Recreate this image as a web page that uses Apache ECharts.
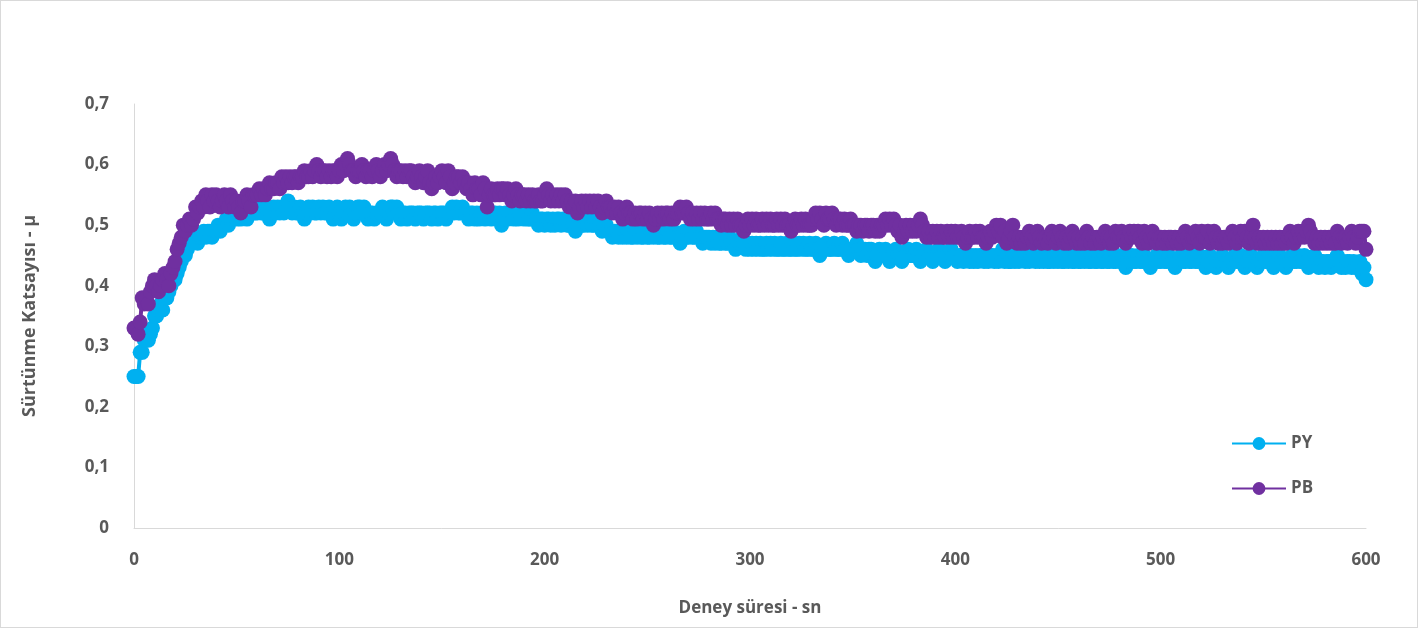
<!DOCTYPE html>
<html>
<head>
<meta charset="utf-8">
<script src="https://cdn.jsdelivr.net/npm/echarts@6/dist/echarts.min.js"></script>
<style>
  html, body { margin: 0; padding: 0; background: #fff; }
  #chart { width: 1418px; height: 628px; box-sizing: border-box; border: 1px solid #d9d9d9; }
</style>
</head>
<body>
<div id="chart"></div>
<script>
// PY / PB friction coefficient, one reading per second (0..600 s)
const seriesNames = ['PY', 'PB'];
const xTicks = [0, 100, 200, 300, 400, 500, 600];
const yTicks = [0, 0.1, 0.2, 0.3, 0.4, 0.5, 0.6, 0.7];

const pyValues = [
  0.25,0.25,0.25,0.29,0.29,0.31,0.32,0.31,0.32,0.33,
  0.35,0.35,0.36,0.37,0.36,0.38,0.38,0.39,0.40,0.41,
  0.41,0.42,0.43,0.44,0.45,0.45,0.46,0.47,0.47,0.48,
  0.48,0.47,0.48,0.48,0.49,0.48,0.49,0.49,0.48,0.49,
  0.49,0.50,0.49,0.50,0.50,0.51,0.50,0.51,0.51,0.52,
  0.51,0.52,0.51,0.52,0.52,0.51,0.52,0.53,0.52,0.52,
  0.52,0.53,0.52,0.52,0.53,0.52,0.51,0.52,0.53,0.52,
  0.53,0.52,0.53,0.52,0.53,0.54,0.53,0.52,0.53,0.52,
  0.52,0.53,0.52,0.51,0.52,0.53,0.52,0.53,0.52,0.52,
  0.53,0.52,0.53,0.52,0.52,0.53,0.52,0.51,0.52,0.53,
  0.52,0.51,0.52,0.53,0.52,0.53,0.52,0.51,0.52,0.53,
  0.53,0.52,0.53,0.52,0.51,0.52,0.52,0.51,0.52,0.52,
  0.52,0.53,0.52,0.51,0.52,0.53,0.53,0.52,0.53,0.52,
  0.51,0.52,0.52,0.51,0.52,0.52,0.52,0.51,0.52,0.52,
  0.52,0.51,0.52,0.52,0.52,0.51,0.52,0.52,0.51,0.52,
  0.52,0.52,0.51,0.52,0.52,0.53,0.52,0.53,0.52,0.52,
  0.53,0.52,0.52,0.51,0.52,0.52,0.51,0.52,0.51,0.52,
  0.52,0.51,0.52,0.52,0.51,0.52,0.52,0.51,0.52,0.50,
  0.51,0.52,0.51,0.52,0.52,0.51,0.52,0.51,0.52,0.52,
  0.51,0.52,0.51,0.51,0.52,0.51,0.51,0.50,0.51,0.51,
  0.50,0.51,0.51,0.50,0.51,0.50,0.51,0.51,0.50,0.51,
  0.51,0.50,0.50,0.51,0.50,0.49,0.50,0.51,0.50,0.50,
  0.51,0.50,0.51,0.50,0.50,0.51,0.50,0.50,0.49,0.50,
  0.50,0.49,0.49,0.48,0.49,0.49,0.48,0.49,0.48,0.49,
  0.48,0.49,0.48,0.48,0.49,0.48,0.49,0.48,0.48,0.49,
  0.48,0.48,0.49,0.48,0.49,0.48,0.48,0.49,0.48,0.48,
  0.49,0.48,0.48,0.49,0.48,0.48,0.47,0.48,0.49,0.48,
  0.48,0.49,0.48,0.48,0.49,0.48,0.48,0.47,0.48,0.48,
  0.48,0.47,0.48,0.47,0.48,0.47,0.47,0.48,0.47,0.47,
  0.48,0.47,0.47,0.46,0.47,0.47,0.48,0.47,0.46,0.47,
  0.46,0.47,0.46,0.47,0.46,0.47,0.46,0.46,0.47,0.46,
  0.47,0.46,0.47,0.46,0.46,0.47,0.46,0.46,0.47,0.46,
  0.46,0.47,0.46,0.46,0.47,0.46,0.47,0.46,0.46,0.47,
  0.46,0.46,0.47,0.46,0.45,0.46,0.46,0.47,0.46,0.46,
  0.46,0.47,0.46,0.46,0.46,0.47,0.46,0.46,0.45,0.46,
  0.46,0.46,0.47,0.46,0.45,0.46,0.46,0.45,0.46,0.46,
  0.45,0.44,0.45,0.46,0.45,0.45,0.46,0.45,0.44,0.45,
  0.45,0.46,0.45,0.45,0.44,0.45,0.45,0.46,0.45,0.45,
  0.45,0.46,0.45,0.44,0.45,0.45,0.46,0.45,0.45,0.44,
  0.45,0.45,0.46,0.45,0.45,0.44,0.45,0.45,0.46,0.45,
  0.45,0.44,0.45,0.45,0.44,0.45,0.45,0.44,0.45,0.44,
  0.45,0.44,0.45,0.45,0.44,0.45,0.44,0.45,0.45,0.44,
  0.45,0.44,0.45,0.46,0.44,0.45,0.44,0.44,0.45,0.44,
  0.45,0.44,0.45,0.45,0.44,0.45,0.44,0.45,0.45,0.44,
  0.45,0.44,0.45,0.44,0.45,0.44,0.44,0.45,0.44,0.45,
  0.44,0.45,0.44,0.44,0.45,0.44,0.45,0.44,0.44,0.45,
  0.44,0.44,0.45,0.44,0.45,0.44,0.44,0.45,0.44,0.44,
  0.45,0.44,0.44,0.45,0.44,0.44,0.45,0.44,0.44,0.45,
  0.44,0.44,0.45,0.43,0.44,0.44,0.45,0.44,0.44,0.45,
  0.44,0.44,0.45,0.44,0.44,0.43,0.44,0.44,0.45,0.44,
  0.44,0.45,0.44,0.44,0.45,0.44,0.44,0.43,0.44,0.44,
  0.45,0.44,0.44,0.45,0.44,0.44,0.45,0.44,0.44,0.45,
  0.44,0.44,0.43,0.44,0.45,0.44,0.44,0.43,0.44,0.44,
  0.45,0.44,0.44,0.43,0.44,0.44,0.45,0.44,0.44,0.45,
  0.44,0.43,0.44,0.44,0.45,0.44,0.44,0.43,0.44,0.44,
  0.45,0.44,0.44,0.45,0.44,0.43,0.44,0.44,0.45,0.44,
  0.44,0.43,0.44,0.44,0.45,0.44,0.44,0.45,0.44,0.44,
  0.45,0.44,0.43,0.44,0.44,0.45,0.44,0.43,0.44,0.44,
  0.43,0.44,0.44,0.43,0.44,0.44,0.45,0.44,0.43,0.44,
  0.43,0.44,0.44,0.43,0.44,0.43,0.43,0.44,0.42,0.43,
  0.41
];

const pbValues = [
  0.33,0.33,0.32,0.34,0.38,0.37,0.38,0.37,0.39,0.40,
  0.41,0.40,0.39,0.40,0.41,0.42,0.41,0.40,0.42,0.43,
  0.44,0.46,0.47,0.48,0.50,0.49,0.50,0.51,0.50,0.51,
  0.53,0.52,0.53,0.54,0.53,0.55,0.54,0.53,0.55,0.54,
  0.55,0.54,0.53,0.54,0.55,0.54,0.53,0.55,0.54,0.53,
  0.54,0.53,0.52,0.54,0.54,0.55,0.54,0.53,0.55,0.55,
  0.55,0.56,0.55,0.56,0.55,0.56,0.57,0.56,0.56,0.57,
  0.57,0.56,0.58,0.57,0.58,0.57,0.58,0.57,0.58,0.58,
  0.57,0.58,0.58,0.59,0.58,0.58,0.59,0.58,0.59,0.60,
  0.59,0.58,0.59,0.59,0.58,0.59,0.58,0.59,0.59,0.58,
  0.59,0.60,0.59,0.60,0.61,0.60,0.59,0.59,0.58,0.59,
  0.59,0.60,0.59,0.58,0.59,0.59,0.58,0.59,0.60,0.59,
  0.58,0.59,0.60,0.59,0.60,0.61,0.60,0.59,0.58,0.59,
  0.59,0.58,0.59,0.58,0.59,0.59,0.58,0.57,0.58,0.59,
  0.58,0.57,0.58,0.59,0.57,0.56,0.57,0.58,0.57,0.58,
  0.59,0.58,0.57,0.59,0.58,0.56,0.57,0.58,0.58,0.57,
  0.58,0.57,0.56,0.57,0.56,0.55,0.57,0.56,0.56,0.55,
  0.57,0.56,0.53,0.55,0.56,0.55,0.55,0.56,0.55,0.56,
  0.56,0.55,0.56,0.55,0.54,0.55,0.56,0.55,0.54,0.55,
  0.55,0.54,0.55,0.54,0.55,0.54,0.54,0.55,0.54,0.54,
  0.55,0.56,0.55,0.54,0.55,0.54,0.55,0.54,0.55,0.54,
  0.55,0.54,0.53,0.54,0.53,0.54,0.52,0.53,0.54,0.53,
  0.54,0.53,0.54,0.53,0.54,0.53,0.54,0.53,0.52,0.53,
  0.54,0.53,0.53,0.52,0.53,0.52,0.53,0.52,0.51,0.52,
  0.53,0.52,0.52,0.51,0.52,0.51,0.52,0.52,0.51,0.52,
  0.51,0.52,0.51,0.50,0.51,0.52,0.51,0.52,0.51,0.52,
  0.52,0.51,0.52,0.51,0.52,0.52,0.53,0.52,0.52,0.53,
  0.52,0.51,0.52,0.51,0.52,0.51,0.52,0.51,0.52,0.51,
  0.51,0.52,0.51,0.52,0.51,0.51,0.50,0.51,0.51,0.50,
  0.51,0.50,0.51,0.50,0.51,0.50,0.50,0.49,0.50,0.51,
  0.50,0.51,0.50,0.51,0.50,0.50,0.51,0.50,0.51,0.50,
  0.51,0.50,0.50,0.51,0.50,0.51,0.50,0.51,0.50,0.50,
  0.49,0.50,0.51,0.50,0.50,0.51,0.50,0.51,0.50,0.50,
  0.50,0.51,0.52,0.51,0.52,0.51,0.50,0.52,0.51,0.51,
  0.52,0.51,0.50,0.51,0.51,0.50,0.51,0.50,0.50,0.51,
  0.50,0.50,0.49,0.50,0.50,0.49,0.50,0.50,0.49,0.50,
  0.50,0.49,0.50,0.49,0.50,0.50,0.51,0.50,0.51,0.50,
  0.51,0.50,0.49,0.50,0.48,0.49,0.50,0.49,0.50,0.49,
  0.50,0.49,0.50,0.51,0.50,0.49,0.48,0.49,0.48,0.49,
  0.48,0.49,0.48,0.49,0.48,0.48,0.49,0.48,0.49,0.48,
  0.49,0.48,0.48,0.49,0.48,0.47,0.48,0.49,0.48,0.48,
  0.49,0.48,0.49,0.48,0.48,0.47,0.48,0.49,0.48,0.49,
  0.50,0.49,0.50,0.48,0.49,0.47,0.48,0.49,0.50,0.48,
  0.47,0.48,0.47,0.48,0.47,0.48,0.49,0.48,0.47,0.48,
  0.49,0.48,0.47,0.48,0.48,0.47,0.48,0.49,0.48,0.47,
  0.48,0.49,0.48,0.47,0.48,0.47,0.48,0.49,0.48,0.47,
  0.48,0.47,0.48,0.47,0.49,0.48,0.47,0.48,0.47,0.48,
  0.48,0.47,0.48,0.49,0.48,0.47,0.48,0.47,0.49,0.48,
  0.48,0.49,0.48,0.47,0.48,0.49,0.48,0.49,0.48,0.49,
  0.48,0.47,0.49,0.48,0.47,0.48,0.49,0.48,0.47,0.48,
  0.48,0.47,0.48,0.47,0.48,0.48,0.47,0.48,0.47,0.48,
  0.47,0.48,0.49,0.48,0.47,0.48,0.48,0.49,0.48,0.47,
  0.49,0.48,0.48,0.49,0.47,0.48,0.49,0.48,0.47,0.48,
  0.47,0.48,0.48,0.47,0.48,0.49,0.48,0.47,0.48,0.49,
  0.48,0.49,0.48,0.47,0.48,0.50,0.48,0.47,0.48,0.47,
  0.48,0.47,0.48,0.47,0.48,0.47,0.48,0.47,0.48,0.47,
  0.48,0.47,0.48,0.49,0.48,0.47,0.48,0.49,0.48,0.49,
  0.48,0.49,0.50,0.49,0.48,0.47,0.48,0.47,0.48,0.47,
  0.48,0.47,0.48,0.47,0.48,0.47,0.49,0.48,0.47,0.48,
  0.48,0.47,0.48,0.49,0.48,0.47,0.48,0.49,0.49,0.49,
  0.46
];

// sample times in seconds
const times = pyValues.map((v, i) => i);

const textColor = '#595959';
const axisColor = '#d9d9d9';
const font = '"Open Sans", "Liberation Sans", sans-serif';

const chart = echarts.init(document.getElementById('chart'));

function pairs(values) {
  return values.map((v, i) => [times[i], v]);
}

function lineSeries(name, values, color) {
  return {
    name: name,
    type: 'line',
    data: pairs(values),
    symbol: 'circle',
    symbolSize: 15,
    showSymbol: true,
    showAllSymbol: true,
    lineStyle: { color: color, width: 4 },
    itemStyle: { color: color },
    animation: false
  };
}

chart.setOption({
  textStyle: { fontFamily: font },
  grid: {
    left: 133,
    right: 51,
    top: 103,
    bottom: 99
  },
  legend: {
    orient: 'vertical',
    left: 1225,
    top: 429,
    itemWidth: 54,
    itemHeight: 16,
    itemGap: 28,
    data: seriesNames,
    textStyle: {
      color: textColor,
      fontSize: 17,
      fontWeight: 'bold',
      fontFamily: font
    }
  },
  xAxis: {
    type: 'value',
    min: xTicks[0],
    max: xTicks[xTicks.length - 1],
    interval: 100,
    name: 'Deney süresi - sn',
    nameLocation: 'middle',
    nameGap: 72,
    nameTextStyle: {
      color: textColor,
      fontSize: 17,
      fontWeight: 'bold',
      fontFamily: font
    },
    axisLine: { show: true, lineStyle: { color: axisColor, width: 1 } },
    axisTick: { show: false },
    splitLine: { show: false },
    axisLabel: {
      color: textColor,
      fontSize: 17,
      fontWeight: 'bold',
      margin: 24
    }
  },
  yAxis: {
    type: 'value',
    min: yTicks[0],
    max: yTicks[yTicks.length - 1],
    interval: 0.1,
    name: 'Sürtünme Katsayısı - μ',
    nameLocation: 'middle',
    nameGap: 95,
    nameRotate: 90,
    nameTextStyle: {
      color: textColor,
      fontSize: 18,
      fontWeight: 'bold',
      fontFamily: font
    },
    axisLine: { show: true, lineStyle: { color: axisColor, width: 1 } },
    axisTick: { show: false },
    splitLine: { show: false },
    axisLabel: {
      color: textColor,
      fontSize: 17,
      fontWeight: 'bold',
      margin: 25,
      formatter: v => (Math.round(v * 10) / 10).toString().replace('.', ',')
    }
  },
  series: [
    lineSeries(seriesNames[0], pyValues, '#00b0f0'),
    lineSeries(seriesNames[1], pbValues, '#7030a0')
  ]
});
</script>
</body>
</html>
